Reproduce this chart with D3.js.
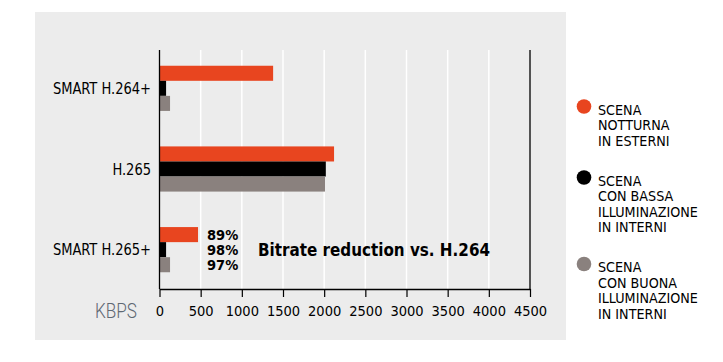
<!DOCTYPE html>
<html><head><meta charset="utf-8">
<script src="https://cdn.jsdelivr.net/npm/d3@7"></script>
<style>
body{margin:0;background:#fff;}
svg{display:block;}
</style></head>
<body>
<svg id="chart" width="723" height="362"></svg>
<script>
const categories = ["SMART H.264+", "H.265", "SMART H.265+"];
const seriesKeys = ["notturna", "bassa", "buona"];
const notturnaEsterni = [1380, 2120, 468];
const bassaInterni = [80, 2020, 80];
const buonaInterni = [128, 2010, 128];
const xTicks = [0, 500, 1000, 1500, 2000, 2500, 3000, 3500, 4000, 4500];
const reductionLabels = ["89%", "98%", "97%"];
const legendLabels = [
  ["SCENA", "NOTTURNA", "IN ESTERNI"],
  ["SCENA", "CON BASSA", "ILLUMINAZIONE", "IN INTERNI"],
  ["SCENA", "CON BUONA", "ILLUMINAZIONE", "IN INTERNI"]
];
const seriesColors = ["#e8451f", "#000000", "#8a817e"];
const unitLabel = "KBPS";
const titleText = "Bitrate reduction vs. H.264";

(function () {
const seriesValues = [notturnaEsterni, bassaInterni, buonaInterni];
const rows = categories.map((c, i) => ({cat: c, vals: seriesKeys.map((k, j) => ({key: k, v: seriesValues[j][i], color: seriesColors[j]}))}));

const svg = d3.select("#chart");
const font = "'DejaVu Sans Condensed','DejaVu Sans',sans-serif";

svg.append("rect").attr("x", 35).attr("y", 12).attr("width", 531).attr("height", 328).attr("fill", "#ececec");

const x = d3.scaleLinear().domain([0, 4500]).range([159.5, 530]);
const y = d3.scaleBand().domain(categories).range([48, 290]).paddingInner(0.44).paddingOuter(0.22);
const ySub = d3.scaleBand().domain(seriesKeys).range([0, y.bandwidth()]);
const plotTop = 50, plotBottom = 289;

svg.append("g").selectAll("line").data(xTicks.slice(1, -1)).join("line")
  .attr("x1", d => x(d)).attr("x2", d => x(d)).attr("y1", plotTop).attr("y2", plotBottom)
  .attr("stroke", "#fff").attr("stroke-width", 1.5);

const g = svg.append("g").selectAll("g").data(rows).join("g")
  .attr("transform", d => `translate(0,${y(d.cat)})`);
g.selectAll("rect").data(d => d.vals).join("rect")
  .attr("x", x(0)).attr("y", d => ySub(d.key))
  .attr("width", d => x(d.v) - x(0)).attr("height", ySub.bandwidth())
  .attr("fill", d => d.color);

svg.append("g").selectAll("line").data([0, 4500]).join("line")
  .attr("x1", d => x(d)).attr("x2", d => x(d)).attr("y1", plotTop).attr("y2", plotBottom)
  .attr("stroke", "#000").attr("stroke-width", 1.3);

const ax = svg.append("g").attr("transform", `translate(0,${plotBottom})`)
  .call(d3.axisBottom(x).tickValues(xTicks).tickSize(8).tickSizeOuter(0).tickPadding(9).tickFormat(d3.format("d")));
ax.select(".domain").attr("stroke", "#000").attr("stroke-width", 1.5);
ax.selectAll(".tick line").attr("stroke", "#000").attr("stroke-width", 1.2);
ax.selectAll(".tick text").attr("font-family", font).attr("font-size", 14.5).attr("fill", "#000");

svg.append("text").attr("x", 95).attr("y", 318).text(unitLabel)
  .attr("font-family", "Roboto, sans-serif").attr("font-weight", 300).attr("font-size", 21)
  .attr("fill", "#5f6873").attr("textLength", 42).attr("lengthAdjust", "spacingAndGlyphs");

const catText = svg.append("g").selectAll("text").data(categories).join("text")
  .attr("x", 151).attr("y", d => y(d) + y.bandwidth() / 2 + 5.5)
  .attr("text-anchor", "end").attr("font-family", font).attr("font-size", 14.5).attr("fill", "#000")
  .text(d => d);
catText.each(function () {
  const w = this.getComputedTextLength();
  d3.select(this).attr("font-size", 16).attr("textLength", w).attr("lengthAdjust", "spacingAndGlyphs");
});

const last = categories[categories.length - 1];
svg.append("g").selectAll("text").data(reductionLabels).join("text")
  .attr("x", 207).attr("y", (d, i) => y(last) + ySub(seriesKeys[i]) + ySub.bandwidth() / 2 + 5.5)
  .attr("font-family", font).attr("font-weight", "bold").attr("font-size", 14.5).attr("fill", "#000")
  .text(d => d);

svg.append("text").attr("x", 258).attr("y", y(last) + y.bandwidth() / 2 + 6.5)
  .attr("font-family", font).attr("font-weight", "bold").attr("font-size", 18.5).attr("fill", "#000")
  .attr("textLength", 232).attr("lengthAdjust", "spacingAndGlyphs")
  .text(titleText);

let by = 114.5;
legendLabels.forEach((lines, i) => {
  const lg = svg.append("g");
  lg.append("circle").attr("cx", 584).attr("cy", by - 8).attr("r", 7.3).attr("fill", seriesColors[i]);
  lg.selectAll("text").data(lines).join("text")
    .attr("x", 598).attr("y", (d, j) => by + j * 15.5)
    .attr("font-family", font).attr("font-size", 14.2).attr("fill", "#000")
    .text(d => d);
  by += lines.length * 15.5 + 24.5;
});
})();
</script>
</body></html>
